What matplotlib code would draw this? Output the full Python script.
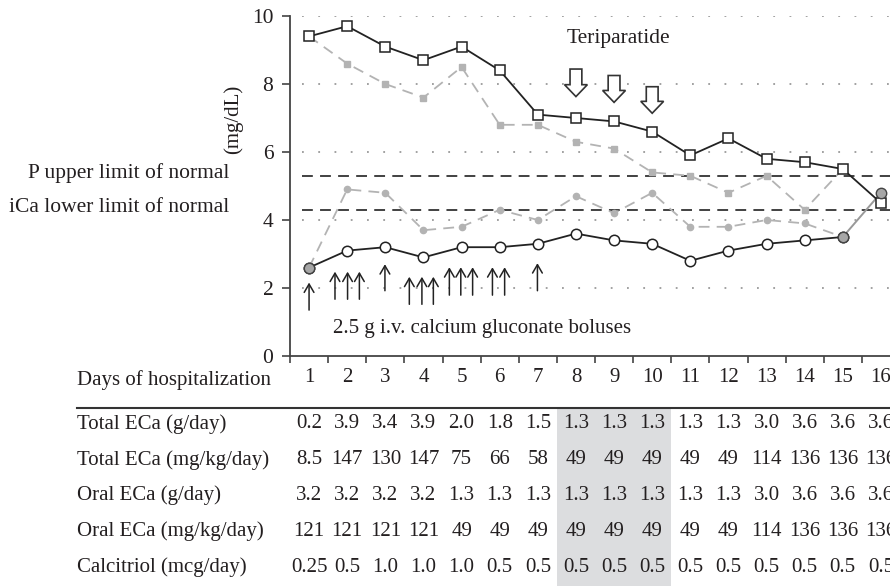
from matplotlib import pyplot as plt
from matplotlib import transforms
from matplotlib.patches import FancyArrow, Rectangle
from matplotlib.lines import Line2D

# serum values (mg/dL) per hospital day
days = list(range(1, 17))
p_serum = [9.4, 9.7, 9.1, 8.7, 9.1, 8.4, 7.1, 7.0, 6.9, 6.6, 5.9, 6.4, 5.8, 5.7, 5.5, 4.5]
p_gray = [9.4, 8.6, 8.0, 7.6, 8.5, 6.8, 6.8, 6.3, 6.1, 5.4, 5.3, 4.8, 5.3, 4.3, 5.5]
ca_total = [2.6, 3.1, 3.2, 2.9, 3.2, 3.2, 3.3, 3.6, 3.4, 3.3, 2.8, 3.1, 3.3, 3.4, 3.5]
ica = [2.6, 4.9, 4.8, 3.7, 3.8, 4.3, 4.0, 4.7, 4.2, 4.8, 3.8, 3.8, 4.0, 3.9, 3.5]
ca_last_days = [15, 16]
ca_last = [3.5, 4.8]
gray_days = [1, 15, 16]
gray_vals = [2.6, 3.5, 4.8]
p_upper = 5.3
ica_lower = 4.3

# calcium gluconate boluses (arrow x, bottom, top)
bolus_x = [1.0, 1.68, 2.01, 2.32, 2.99, 3.63, 3.96, 4.26, 4.68, 4.98, 5.29, 5.81, 6.13, 6.99]
bolus_lo = [1.35, 1.67, 1.67, 1.67, 1.92, 1.52, 1.52, 1.52, 1.79, 1.79, 1.79, 1.79, 1.79, 1.92]
bolus_hi = [2.16, 2.48, 2.48, 2.48, 2.70, 2.33, 2.33, 2.33, 2.61, 2.61, 2.61, 2.61, 2.61, 2.73]

# teriparatide doses
teri_days = [8, 9, 10]
teri_top = [8.44, 8.25, 7.92]
teri_tip = [7.63, 7.46, 7.14]

row_labels = ['Total ECa (g/day)', 'Total ECa (mg/kg/day)', 'Oral ECa (g/day)',
              'Oral ECa (mg/kg/day)', 'Calcitriol (mcg/day)']
total_g = ['0.2', '3.9', '3.4', '3.9', '2.0', '1.8', '1.5', '1.3', '1.3', '1.3',
           '1.3', '1.3', '3.0', '3.6', '3.6', '3.6']
total_mgkg = ['8.5', '147', '130', '147', '75', '66', '58', '49', '49', '49',
              '49', '49', '114', '136', '136', '136']
oral_g = ['3.2', '3.2', '3.2', '3.2', '1.3', '1.3', '1.3', '1.3', '1.3', '1.3',
          '1.3', '1.3', '3.0', '3.6', '3.6', '3.6']
oral_mgkg = ['121', '121', '121', '121', '49', '49', '49', '49', '49', '49',
             '49', '49', '114', '136', '136', '136']
calcitriol = ['0.25', '0.5', '1.0', '1.0', '1.0', '0.5', '0.5', '0.5', '0.5', '0.5',
              '0.5', '0.5', '0.5', '0.5', '0.5', '0.5']
table_rows = [total_g, total_mgkg, oral_g, oral_mgkg, calcitriol]

TXT = '#231f20'
GRAY = '#b3b3b3'
FS = 15

plt.rcParams['font.family'] = ['Liberation Serif', 'DejaVu Serif']
plt.rcParams['text.color'] = TXT

W, H = 890, 586
fig = plt.figure(figsize=(W / 100, H / 100), dpi=100)
ax = fig.add_axes([290 / W, (H - 356) / H, 610 / W, 340 / H])


def fy(px):
    return 1 - px / H


ax.set_xlim(0.5, 16.5)
ax.set_ylim(0, 10)
for s in ['top', 'right']:
    ax.spines[s].set_visible(False)
for s in ['left', 'bottom']:
    ax.spines[s].set_color('#444444')
    ax.spines[s].set_linewidth(1.3)

ax.set_yticks([0, 2, 4, 6, 8, 10])
ax.set_xticks(days)
ax.set_xticks([d + 0.5 for d in range(0, 16)], minor=True)
ax.tick_params(axis='x', which='major', length=0, pad=9, labelsize=FS, labelcolor=TXT)
ax.tick_params(axis='x', which='minor', length=5, width=1.2, color='#444444')
ax.tick_params(axis='y', length=6, width=1.2, color='#444444', pad=6,
               labelsize=FS + 0.5, labelcolor=TXT)

for g in [2, 4, 6, 8, 10]:
    ax.plot([0.82, 16.5], [g, g], color='#9a9a9a', lw=1.3,
            linestyle=(0, (1, 8)), zorder=1)

ax.axhline(p_upper, xmin=0.02, color='#333333', lw=1.3, linestyle=(0, (6, 4)), zorder=2)
ax.axhline(ica_lower, xmin=0.02, color='#333333', lw=1.3, linestyle=(0, (6, 4)), zorder=2)

ax.plot(days[:15], p_gray, color=GRAY, lw=1.3, linestyle=(0, (6, 4)),
        marker='s', ms=4.5, mfc=GRAY, mec=GRAY, zorder=3)
ax.plot(days[:15], ica, color=GRAY, lw=1.3, linestyle=(0, (6, 4)),
        marker='o', ms=4.5, mfc=GRAY, mec=GRAY, zorder=3)
ax.plot(ca_last_days, ca_last, color='#999999', lw=1.4, zorder=3)
ax.plot(days, p_serum, color='#222222', lw=1.3, marker='s', ms=7.5,
        mfc='white', mec='#222222', mew=1.1, zorder=4)
ax.plot(days[:15], ca_total, color='#222222', lw=1.3, marker='o', ms=7.5,
        mfc='white', mec='#222222', mew=1.1, zorder=4)
ax.plot(gray_days, gray_vals, linestyle='none', marker='o', ms=7.5,
        mfc='#a6a6a6', mec='#444444', mew=1.0, zorder=5)

for x, lo, hi in zip(bolus_x, bolus_lo, bolus_hi):
    ax.annotate('', xy=(x, hi), xytext=(x, lo),
                arrowprops=dict(arrowstyle='->,head_length=0.6,head_width=0.35',
                                color='#222222', lw=1.1, shrinkA=0, shrinkB=0,
                                mutation_scale=10))

for d, top, tip in zip(teri_days, teri_top, teri_tip):
    ax.add_patch(FancyArrow(d, top, 0, tip - top, width=0.31, head_width=0.6,
                            head_length=0.35, length_includes_head=True,
                            facecolor='white', edgecolor='#333333', lw=1.2,
                            zorder=6))

ax.text(7.76, 9.35, 'Teriparatide', fontsize=FS + 0.5, va='center', ha='left')
ax.text(1.63, 0.82, '2.5 g i.v. calcium gluconate boluses', fontsize=FS,
        va='center', ha='left')

fig.text(233 / W, fy(119), '(mg/dL)', rotation=90, fontsize=FS,
         ha='center', va='center')
fig.text(229 / W, fy(173), 'P upper limit of normal', fontsize=FS + 0.5,
         ha='right', va='center')
fig.text(229 / W, fy(207), 'iCa lower limit of normal', fontsize=FS + 0.5,
         ha='right', va='center')
fig.text(77 / W, fy(380), 'Days of hospitalization', fontsize=FS,
         ha='left', va='center')

# dosing table under the chart
tr = transforms.blended_transform_factory(ax.transData, fig.transFigure)
fig.patches.append(Rectangle((7.5, 0), 3.0, fy(408), transform=tr,
                             facecolor='#dcdddf', edgecolor='none', zorder=0))
fig.lines.append(Line2D([77 / W, 1], [fy(407.5), fy(407.5)], transform=fig.transFigure,
                        color='#333333', lw=1.5))

row_y = [424, 460, 495, 531, 567]
for label, vals, y in zip(row_labels, table_rows, row_y):
    fig.text(77 / W, fy(y), label, fontsize=FS, ha='left', va='center')
    for d, v in zip(days, vals):
        fig.text(d, fy(y), v, transform=tr, fontsize=FS, ha='center', va='center')

fig.savefig('out.png', dpi=100)
